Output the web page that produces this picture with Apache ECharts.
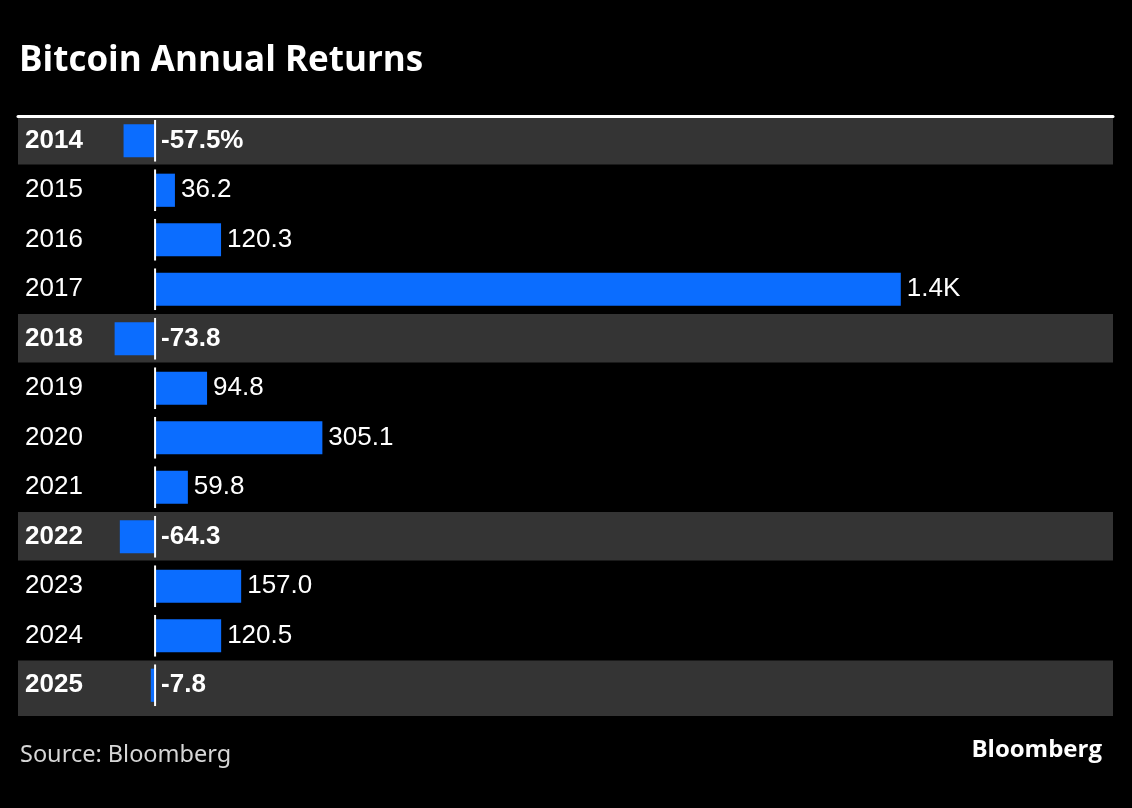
<!DOCTYPE html>
<html>
<head>
<meta charset="utf-8">
<script src="https://cdn.jsdelivr.net/npm/echarts@6/dist/echarts.min.js"></script>
<style>
html,body{margin:0;padding:0;background:#000;}
#chart{width:1132px;height:808px;}
</style>
</head>
<body>
<div id="chart"></div>
<script>
const years = ['2014','2015','2016','2017','2018','2019','2020','2021','2022','2023','2024','2025'];
const returns = [-57.5, 36.2, 120.3, 1360, -73.8, 94.8, 305.1, 59.8, -64.3, 157.0, 120.5, -7.8];

const BLUE = '#0b6dff';
const ROWGRAY = '#343434';

function fmt(v, i) {
  let s = Math.abs(v) >= 1000 ? (v / 1000).toFixed(1) + 'K' : v.toFixed(1);
  if (i === 0) s += '%';
  return s;
}

const chart = echarts.init(document.getElementById('chart'));
chart.setOption({
  backgroundColor: '#000',
  animation: false,
  title: [
    { text: 'Bitcoin Annual Returns', left: 14, top: 39,
      textStyle: { color: '#fff', fontFamily: 'Open Sans', fontWeight: 'bold', fontSize: 35 } },
    { text: 'Source: Bloomberg', left: 15, top: 738,
      textStyle: { color: '#d6d6d6', fontFamily: 'Noto Sans', fontWeight: 'normal', fontSize: 23.5 } },
    { text: 'Bloomberg', right: 25, top: 733,
      textStyle: { color: '#fff', fontFamily: 'Open Sans', fontWeight: 'bold', fontSize: 24 } }
  ],
  grid: { left: 18, right: 19, top: 116, height: 594 },
  xAxis: {
    type: 'value', min: -250, max: 1747, position: 'top',
    axisLine: { show: true, onZero: false, lineStyle: { color: '#fff', width: 3 } },
    axisTick: { show: false }, axisLabel: { show: false }, splitLine: { show: false }
  },
  yAxis: {
    type: 'category', data: years, inverse: true,
    axisLine: { show: false }, axisTick: { show: false },
    axisLabel: {
      inside: true, margin: 7, color: '#fff',
      fontFamily: 'Liberation Sans', fontSize: 26,
      formatter: function (v, i) { return (returns[i] < 0 ? '{b|' : '{n|') + v + '}'; },
      rich: {
        b: { fontWeight: 'bold', fontFamily: 'Liberation Sans', fontSize: 26, color: '#fff' },
        n: { fontWeight: 'normal', fontFamily: 'Liberation Sans', fontSize: 26, color: '#fff' }
      }
    },
    z: 10
  },
  series: [
    {
      type: 'custom', name: 'rows', z: 0, silent: true,
      data: returns.map((v, i) => [v, i]),
      encode: { x: 0, y: 1 },
      renderItem: function (params, api) {
        if (api.value(0) >= 0) return null;
        const cs = params.coordSys;
        const c = api.coord([0, api.value(1)]);
        const h = api.size([0, 1])[1];
        const isLast = params.dataIndex === years.length - 1;
        return { type: 'rect', shape: { x: cs.x, y: c[1] - h / 2, width: cs.width, height: isLast ? h + 6 : h - 1 },
                 style: { fill: ROWGRAY } };
      }
    },
    {
      type: 'bar', name: 'Return', z: 2, barWidth: '67%',
      itemStyle: { color: BLUE },
      data: returns.map((v) => ({ value: v, label: { fontWeight: v < 0 ? 'bold' : 'normal' } })),
      label: {
        show: true, position: 'right', distance: 6, color: '#fff',
        fontFamily: 'Liberation Sans', fontSize: 26,
        formatter: function (p) { return fmt(p.value, p.dataIndex); }
      }
    },
    {
      type: 'custom', name: 'zero', z: 3, silent: true,
      data: returns.map((v, i) => [0, i]),
      encode: { x: 0, y: 1 },
      renderItem: function (params, api) {
        const c = api.coord([0, api.value(1)]);
        const h = api.size([0, 1])[1];
        return { type: 'line', shape: { x1: c[0], y1: c[1] - h * 0.42, x2: c[0], y2: c[1] + h * 0.42 },
                 style: { stroke: '#fff', lineWidth: 2 } };
      }
    }
  ]
});
</script>
</body>
</html>
